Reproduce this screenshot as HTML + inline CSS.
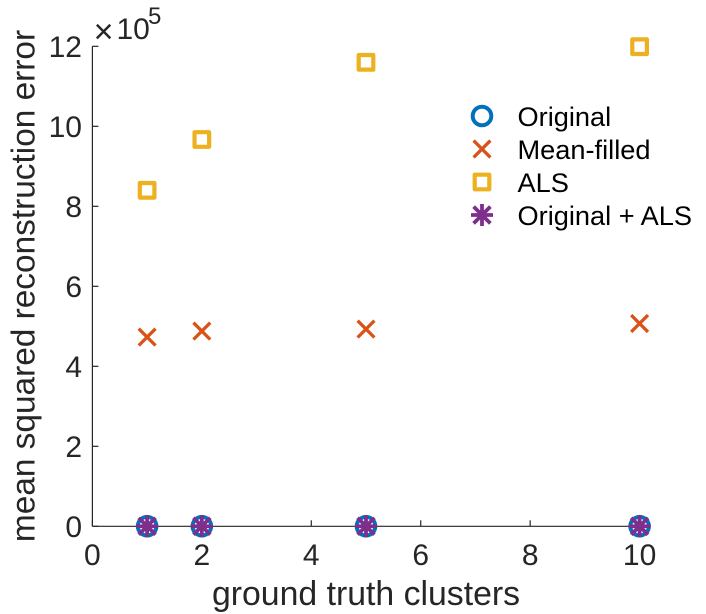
<!DOCTYPE html>
<html>
<head>
<meta charset="utf-8">
<style>
html,body{margin:0;padding:0;background:#fff;}
svg{display:block;}
text{font-family:"Liberation Sans",Arial,sans-serif;}
</style>
</head>
<body>
<svg id="chart" xmlns="http://www.w3.org/2000/svg" width="706" height="614" viewBox="0 0 706 614"></svg>
<script>
const clusters = [1, 2, 5, 10];
const original = [0.002, 0.002, 0.002, 0.002];
const meanFilled = [4.73, 4.88, 4.93, 5.07];
const als = [8.4, 9.67, 11.6, 11.99];
const originalPlusAls = [0.002, 0.002, 0.002, 0.002];
const xTicks = [0, 2, 4, 6, 8, 10];
const yTicks = [0, 2, 4, 6, 8, 10, 12];
const legendLabels = ['Original', 'Mean-filled', 'ALS', 'Original + ALS'];

const NS = 'http://www.w3.org/2000/svg';
const svg = document.getElementById('chart');
const INK = '#262626';
const xAxis = v => 92.4 + v * 54.72;
const yAxis = v => 526.3 - v * 40;

function mk(tag, attrs, parent, text) {
  const el = document.createElementNS(NS, tag);
  for (const k in attrs) el.setAttribute(k, attrs[k]);
  if (text !== undefined) el.textContent = text;
  (parent || svg).appendChild(el);
  return el;
}
function drawCircle(g, x, y) {
  mk('circle', {cx: x, cy: y, r: 9.3, fill: 'none', stroke: '#0072BD', 'stroke-width': 4}, g);
}
function drawCross(g, x, y) {
  const r = 8.4;
  mk('path', {d: `M${x-r} ${y-r}L${x+r} ${y+r}M${x-r} ${y+r}L${x+r} ${y-r}`, fill: 'none', stroke: '#D95319', 'stroke-width': 3.3}, g);
}
function drawSquare(g, x, y) {
  const r = 7.3;
  mk('rect', {x: x-r, y: y-r, width: 2*r, height: 2*r, fill: 'none', stroke: '#EDB120', 'stroke-width': 4.2, 'stroke-linejoin': 'round'}, g);
}
function drawStar(g, x, y) {
  const r = 11, d = 8.4;
  mk('path', {d: `M${x-r} ${y}L${x+r} ${y}M${x} ${y-r}L${x} ${y+r}M${x-d} ${y-d}L${x+d} ${y+d}M${x-d} ${y+d}L${x+d} ${y-d}`, fill: 'none', stroke: '#7E2F8E', 'stroke-width': 3.8}, g);
}

const axes = mk('g', {}, svg);



const xLine = mk('line', {x1: xAxis(0), x2: xAxis(10), y1: yAxis(0), y2: yAxis(0), stroke: INK, 'stroke-width': 1.2}, axes);


const yLine = mk('line', {x1: xAxis(0), x2: xAxis(0), y1: yAxis(0), y2: yAxis(12), stroke: INK, 'stroke-width': 1.2}, axes);



xTicks.forEach(v => {
  const t = mk('line', {x1: xAxis(v), x2: xAxis(v), y1: yAxis(0), y2: yAxis(0) - 6, stroke: INK, 'stroke-width': 1.2}, axes);
  
  
  const l = mk('text', {x: xAxis(v), y: 565, 'text-anchor': 'middle', 'font-size': 30, fill: INK}, axes, String(v));
  
  
});
yTicks.forEach(v => {
  const t = mk('line', {x1: xAxis(0), x2: xAxis(0) + 6, y1: yAxis(v), y2: yAxis(v), stroke: INK, 'stroke-width': 1.2}, axes);
  
  
  const l = mk('text', {x: 82, y: yAxis(v) + 10.5, 'text-anchor': 'end', 'font-size': 30, fill: INK}, axes, String(v));
  
  
});

const xTitle = mk('text', {x: 366, y: 605, 'text-anchor': 'middle', 'font-size': 33.8, fill: INK}, axes, 'ground truth clusters');


const yTitle = mk('text', {x: 0, y: 0, transform: 'translate(34.5 286) rotate(-90)', 'text-anchor': 'middle', 'font-size': 33.4, fill: INK}, axes, 'mean squared reconstruction error');



const expo = mk('g', {}, axes);


mk('text', {x: 103.5, y: 43, 'text-anchor': 'middle', 'font-size': 34, fill: INK}, expo, '×');
mk('text', {x: 116.5, y: 39, 'font-size': 30, fill: INK}, expo, '10');
mk('text', {x: 148, y: 24, 'font-size': 24, fill: INK}, expo, '5');

function series(name, xs, ys, draw) {
  const g = mk('g', {}, svg);
  
  
  xs.forEach((c, i) => draw(g, xAxis(c), yAxis(ys[i])));
}
series('series-original', clusters, original, drawCircle);
series('series-mean-filled', clusters, meanFilled, drawCross);
series('series-als', clusters, als, drawSquare);
series('series-original-plus-als', clusters, originalPlusAls, drawStar);

const legend = mk('g', {}, svg);


const drawers = [drawCircle, drawCross, drawSquare, drawStar];
legendLabels.forEach((label, i) => {
  const y = 116 + i * 33;
  const e = mk('g', {}, legend);
  
  
  drawers[i](e, 482, y);
  mk('text', {x: 517.5, y: y + 10, 'font-size': 27.2, fill: '#000'}, e, label);
});
</script>
</body>
</html>
